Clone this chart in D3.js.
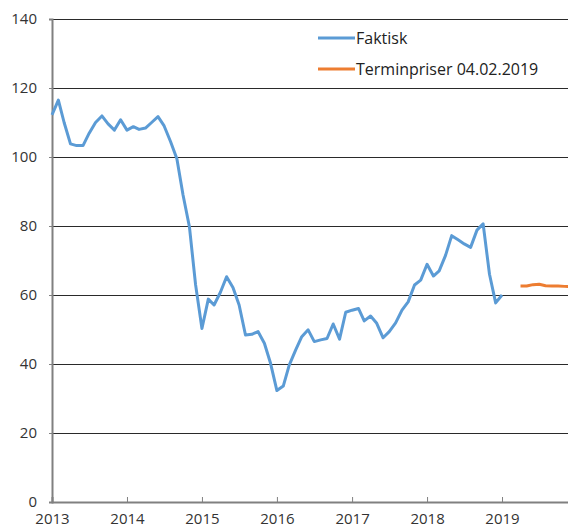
<!DOCTYPE html>
<html>
<head>
<meta charset="utf-8">
<script src="https://cdn.jsdelivr.net/npm/d3@7"></script>
<style>
  body { margin: 0; background: #fff; }
  svg { display: block; font-family: "Open Sans", sans-serif; }
</style>
</head>
<body>
<div id="chart"></div>
<script>
// Faktisk, monthly from Jan 2013 to Jan 2019
const faktiskStart = "2013-01";
const faktisk = [
  112.2, 116.5, 110, 103.8, 103.3, 103.3, 106.9, 110, 111.9, 109.6, 107.8, 110.8,
  107.8, 108.8, 108, 108.4, 110, 111.7, 109, 104.5, 99.5, 89, 79.8, 63,
  50.3, 58.8, 57.1, 60.8, 65.3, 62.2, 57.1, 48.4, 48.6, 49.4, 46, 40.2,
  32.3, 33.6, 39.7, 44, 47.9, 49.9, 46.5, 47, 47.4, 51.6, 47.2, 55,
  55.6, 56.1, 52.5, 53.9, 51.8, 47.6, 49.4, 51.9, 55.6, 58, 62.9, 64.3,
  68.9, 65.5, 67, 71.5, 77.2, 76, 74.8, 73.8, 78.8, 80.6, 66, 57.7,
  60
];
// Terminpriser 04.02.2019, monthly from Apr 2019
const terminStart = "2019-04";
const termin = [62.6, 62.6, 63, 63.1, 62.7, 62.6, 62.6, 62.5, 62.4];

const yTicks = [0, 20, 40, 60, 80, 100, 120, 140];
const xTickYears = [2013, 2014, 2015, 2016, 2017, 2018, 2019];
const legendLabels = ["Faktisk", "Terminpriser 04.02.2019"];
const colors = ["#5b9bd5", "#ed7d31"];

const W = 568, H = 531;
const margin = {top: 19, right: -9, bottom: 29, left: 52};
const width = W - margin.left - margin.right;
const height = H - margin.top - margin.bottom;

const parseMonth = d3.timeParse("%Y-%m");
function toSeries(start, values) {
  const s = parseMonth(start);
  return values.map((v, i) => ({date: d3.timeMonth.offset(s, i), value: v}));
}
const faktiskData = toSeries(faktiskStart, faktisk);
const terminData = toSeries(terminStart, termin);

const svg = d3.select("#chart").append("svg")
  .attr("width", W)
  .attr("height", H);

const g = svg.append("g")
  .attr("transform", "translate(" + margin.left + "," + margin.top + ")");

const x = d3.scaleTime()
  .domain([new Date(2013, 0, 1), new Date(2020, 0, 1)])
  .range([0, width]);

const y = d3.scaleLinear()
  .domain([0, 140])
  .range([height, 0]);

// gridlines
g.append("g")
  .selectAll("line")
  .data(yTicks.filter(d => d > 0))
  .join("line")
  .attr("x1", 0)
  .attr("x2", width)
  .attr("y1", d => Math.round(y(d)) + 0.5)
  .attr("y2", d => Math.round(y(d)) + 0.5)
  .attr("stroke", "#2a2a2a")
  .attr("stroke-width", 1);

// y axis
const yAxis = g.append("g")
  .call(d3.axisLeft(y).tickValues(yTicks).tickSize(3).tickPadding(12));
yAxis.select(".domain").attr("stroke", "#808080").attr("stroke-width", 2);
yAxis.selectAll(".tick line").attr("stroke", "#808080");
yAxis.selectAll("text")
  .attr("font-size", 15)
  .attr("fill", "#333")
  .attr("font-family", "Open Sans, sans-serif");

// x axis
const xAxis = g.append("g")
  .attr("transform", "translate(0," + height + ")")
  .call(d3.axisBottom(x)
    .tickValues(xTickYears.map(yr => new Date(yr, 0, 1)))
    .tickFormat(d3.timeFormat("%Y"))
    .tickSize(-5)
    .tickPadding(11));
xAxis.select(".domain").attr("stroke", "#808080").attr("stroke-width", 2);
xAxis.selectAll(".tick line").attr("stroke", "#808080");
xAxis.selectAll("text")
  .attr("font-size", 15)
  .attr("fill", "#333")
  .attr("font-family", "Open Sans, sans-serif");

const line = d3.line()
  .x(d => x(d.date))
  .y(d => y(d.value));

g.append("path")
  .datum(faktiskData)
  .attr("d", line)
  .attr("fill", "none")
  .attr("stroke", colors[0])
  .attr("stroke-width", 3)
  .attr("stroke-linejoin", "round");

g.append("path")
  .datum(terminData)
  .attr("d", line)
  .attr("fill", "none")
  .attr("stroke", colors[1])
  .attr("stroke-width", 3)
  .attr("stroke-linejoin", "round");

// legend
const legend = svg.append("g")
  .attr("transform", "translate(318,38)");
legendLabels.forEach((label, i) => {
  const row = legend.append("g").attr("transform", "translate(0," + i * 31 + ")");
  row.append("line")
    .attr("x1", 0).attr("x2", 37)
    .attr("stroke", colors[i])
    .attr("stroke-width", 3);
  row.append("text")
    .attr("x", 38)
    .attr("dy", "0.35em")
    .attr("font-size", 16)
    .attr("fill", "#222")
    .text(label);
});
</script>
</body>
</html>
